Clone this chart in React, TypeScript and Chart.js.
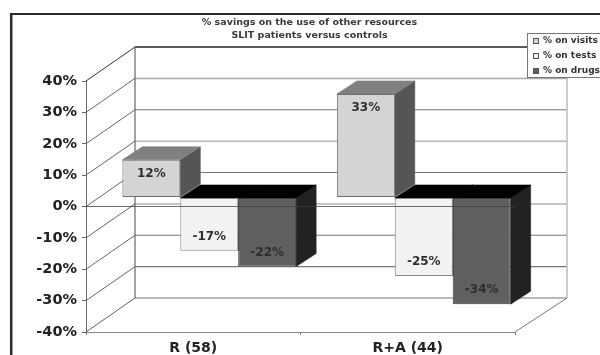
import React, { useEffect, useRef } from "react";
import { Chart, registerables } from "chart.js";

Chart.register(...registerables);

// Survey values, in percent
const categories = ["R (58)", "R+A (44)"];
const visits = [12, 33];
const tests = [-17, -25];
const drugs = [-22, -34];
const seriesNames = ["% on visits", "% on tests", "% on drugs"];
const titleLines = ["% savings on the use of other resources", "SLIT patients versus controls"];

// Pseudo-3D projection, in pixels
const WALL_DX = 49;
const WALL_DY = -34;
const BAR_SHIFT_X = 16;
const BAR_SHIFT_Y = -9;
const BAR_DX = 20;
const BAR_DY = -13;

const FACE = ["#d4d4d4", "#f2f2f2", "#606060"];
const BAR_EDGE = ["#6e6e6e", "#8a8a8a", "#3c3c3c"];
const SIDE = ["#555555", "#555555", "#222222"];
const TOP = ["#808080", "#000000", "#000000"];

const wallLineStyle = (value: number): [string, number] => {
  if (value === 40) return ["#222222", 1.5];
  if (value === 30) return ["#a8a8a8", 1.5];
  if (value === 10 || value === -10) return ["#c4c4c4", 2];
  return ["#777777", 1.2];
};

const poly = (ctx: CanvasRenderingContext2D, pts: number[][], fill: string) => {
  ctx.beginPath();
  pts.forEach(([x, y], i) => (i ? ctx.lineTo(x, y) : ctx.moveTo(x, y)));
  ctx.closePath();
  ctx.fillStyle = fill;
  ctx.fill();
  // A hairline in the same colour closes the seams between neighbouring faces
  ctx.strokeStyle = fill;
  ctx.lineWidth = 0.6;
  ctx.stroke();
};

const seg = (
  ctx: CanvasRenderingContext2D,
  x1: number,
  y1: number,
  x2: number,
  y2: number,
  color: string,
  width = 1
) => {
  ctx.beginPath();
  ctx.moveTo(x1, y1);
  ctx.lineTo(x2, y2);
  ctx.strokeStyle = color;
  ctx.lineWidth = width;
  ctx.stroke();
};

const frameAndLegend = {
  id: "frameAndLegend",
  beforeDraw(chart: any) {
    const { ctx, width, height } = chart;
    ctx.save();
    ctx.fillStyle = "#ffffff";
    ctx.fillRect(0, 0, width, height);
    seg(ctx, 11.2, 14, 11.2, height, "#2a2a2a", 2.5);
    seg(ctx, 10, 14, width, 14, "#2a2a2a", 2);
    // Two-line heading, centred on the frame
    ctx.font = "bold 9.5px 'DejaVu Sans'";
    ctx.fillStyle = "#3a3a3a";
    ctx.textAlign = "center";
    ctx.textBaseline = "middle";
    titleLines.forEach((line, i) => ctx.fillText(line, 309.5, 23 + i * 13));
    ctx.restore();
  },
  afterDraw(chart: any) {
    const { ctx } = chart;
    ctx.save();
    ctx.fillStyle = "#ffffff";
    ctx.fillRect(527.5, 33.5, 73, 44);
    ctx.strokeStyle = "#777777";
    ctx.lineWidth = 1;
    ctx.strokeRect(527.5, 33.5, 73, 44);
    ctx.font = "bold 9px 'DejaVu Sans'";
    ctx.textBaseline = "middle";
    ctx.textAlign = "left";
    seriesNames.forEach((name, i) => {
      const y = 41 + i * 15;
      ctx.fillStyle = FACE[i];
      ctx.fillRect(533.5, y - 2.5, 5, 5);
      ctx.strokeStyle = "#555555";
      ctx.strokeRect(533.5, y - 2.5, 5, 5);
      ctx.fillStyle = "#333333";
      ctx.fillText(name, 543, y);
    });
    ctx.restore();
  },
};

const depthBars = {
  id: "depthBars",
  beforeDatasetsDraw(chart: any) {
    const { ctx, chartArea, scales } = chart;
    const { left, right } = chartArea;
    const y = scales.y;
    const x0 = left + WALL_DX;
    const x1 = right + WALL_DX + 3;
    const yMax = y.getPixelForValue(40);
    const yMin = y.getPixelForValue(-40);

    ctx.save();
    // Back wall, diagonals and floor
    y.ticks.forEach((t: any) => {
      const py = y.getPixelForValue(t.value);
      const [color, w] = wallLineStyle(t.value);
      seg(ctx, left, py, x0, py + WALL_DY, t.value === 40 ? "#333333" : "#666666", 1);
      seg(ctx, x0, py + WALL_DY, x1, py + WALL_DY, color, w);
    });
    seg(ctx, x0, yMax + WALL_DY, x0, yMin + WALL_DY, "#666666", 1.2);
    seg(ctx, x1, yMax + WALL_DY, x1, yMin + WALL_DY, "#bdbdbd", 1.5);
    seg(ctx, right, yMin, x1, yMin + WALL_DY, "#777777", 1);

    // Top and side faces sit behind the front faces
    ctx.translate(BAR_SHIFT_X, BAR_SHIFT_Y);
    chart.data.datasets.forEach((_: any, di: number) => {
      chart.getDatasetMeta(di).data.forEach((bar: any) => {
        const half = bar.width / 2;
        const l = bar.x - half;
        const r = bar.x + half;
        const top = Math.min(bar.y, bar.base);
        const bottom = Math.max(bar.y, bar.base);
        poly(
          ctx,
          [
            [r, top],
            [r + BAR_DX, top + BAR_DY],
            [r + BAR_DX, bottom + BAR_DY],
            [r, bottom],
          ],
          SIDE[di]
        );
        poly(
          ctx,
          [
            [l, top],
            [l + BAR_DX, top + BAR_DY],
            [r + BAR_DX, top + BAR_DY],
            [r, top],
          ],
          TOP[di]
        );
      });
    });
    // Left open: the front faces are drawn by the chart in this shifted frame
  },
  afterDatasetsDraw(chart: any) {
    const { ctx, chartArea, scales } = chart;
    ctx.font = "bold 12px 'DejaVu Sans'";
    ctx.textAlign = "center";
    ctx.textBaseline = "middle";
    ctx.fillStyle = "#2e2e2e";
    chart.data.datasets.forEach((ds: any, di: number) => {
      chart.getDatasetMeta(di).data.forEach((bar: any, i: number) => {
        const v = ds.data[i];
        ctx.fillText(`${v}%`, bar.x, bar.y + (v > 0 ? 14 : -14));
      });
    });
    ctx.restore();
    // The zero plane runs in front of the bars
    const zero = scales.y.getPixelForValue(0);
    seg(ctx, chartArea.left, zero, chartArea.right, zero, "rgba(60,60,60,0.75)", 1);
  },
};

export default function App() {
  const ref = useRef<HTMLCanvasElement>(null);

  useEffect(() => {
    const chart = new Chart(ref.current!, {
      type: "bar",
      data: {
        labels: categories,
        datasets: [visits, tests, drugs].map((data, i) => ({
          label: seriesNames[i],
          data,
          backgroundColor: FACE[i],
          borderColor: BAR_EDGE[i],
          borderWidth: 1,
          borderSkipped: false,
          barPercentage: 1,
          categoryPercentage: 0.81,
          clip: false,
        })),
      },
      options: {
        animation: false,
        responsive: false,
        layout: { padding: { left: 0, right: 85, top: 81, bottom: 0 } },
        plugins: {
          legend: { display: false },
          tooltip: { enabled: false },
          title: { display: false },
        },
        scales: {
          x: {
            afterFit: (s: any) => {
              s.height = 23;
            },
            grid: { drawOnChartArea: false, color: "#777777", tickLength: 3 },
            border: { color: "#888888", width: 1 },
            ticks: {
              color: "#222222",
              padding: 5,
              font: { family: "'DejaVu Sans'", size: 14, weight: "bold" },
            },
          },
          y: {
            min: -40,
            max: 40,
            afterFit: (s: any) => {
              s.width = 86;
            },
            grid: { drawOnChartArea: false, color: "#666666", tickLength: 4 },
            border: { color: "#666666", width: 1 },
            ticks: {
              stepSize: 10,
              color: "#222222",
              padding: 5,
              font: { family: "'DejaVu Sans'", size: 14.5, weight: "bold" },
              callback: (v: any) => `${v}%`,
            },
          },
        },
      },
      plugins: [frameAndLegend, depthBars],
    } as any);
    return () => chart.destroy();
  }, []);

  return (
    <div style={{ position: "fixed", left: 0, top: 0, width: 600, height: 355 }}>
      <canvas ref={ref} width={600} height={355} style={{ display: "block" }} />
    </div>
  );
}
